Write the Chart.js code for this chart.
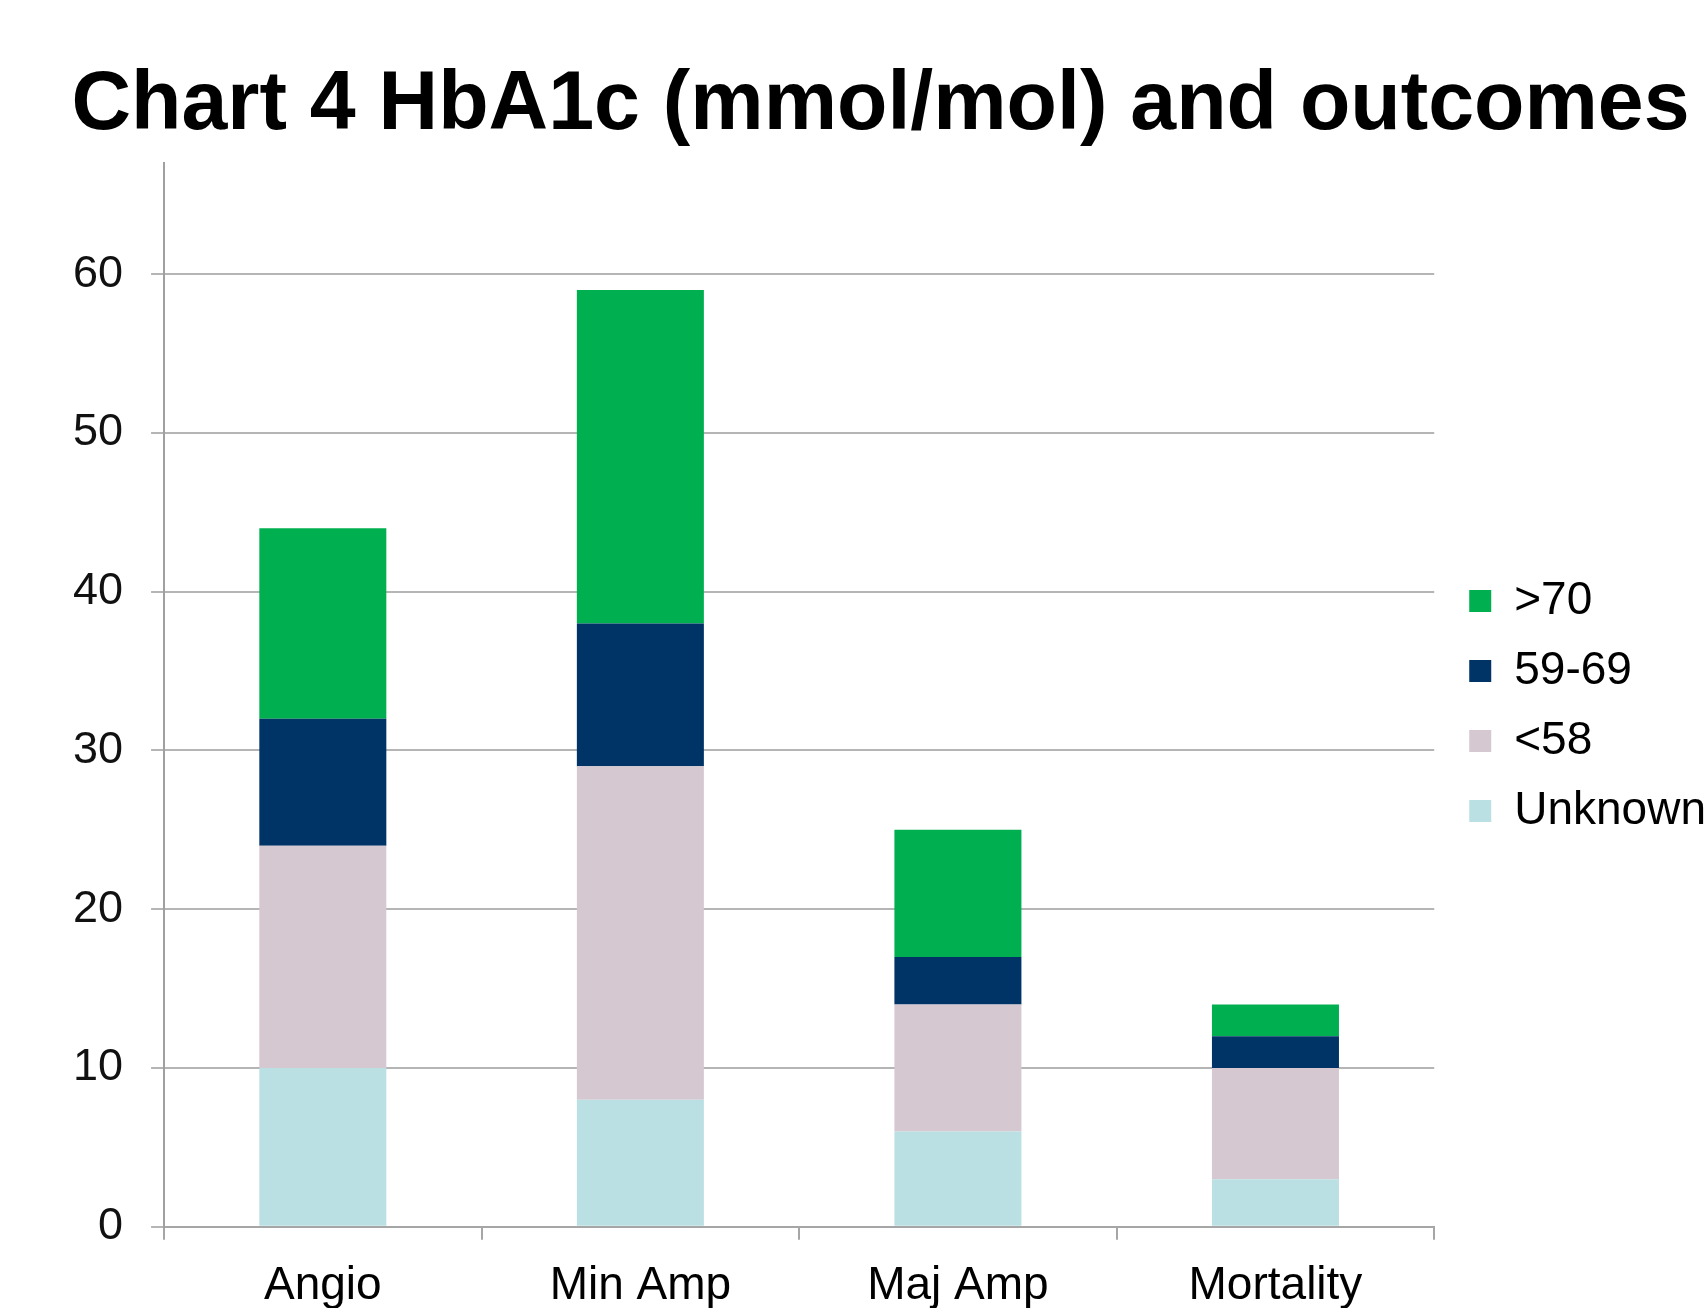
<!DOCTYPE html>
<html lang="en">
<head>
    <meta charset="UTF-8">
    <title>Chart 4 HbA1c (mmol/mol) and outcomes</title>
    <script src="https://cdn.jsdelivr.net/npm/chart.js"></script>
    <style>
        body { margin: 0; background: #ffffff; }
        #grafico { display: block; }
    </style>
</head>
<body>
    <canvas id="grafico" width="1706" height="1308"></canvas>

<script>
    // dados
    const categorias = ['Angio', 'Min Amp', 'Maj Amp', 'Mortality'];
    const desconhecido = [10, 8, 6, 3];
    const menor58 = [14, 21, 8, 7];
    const faixa59a69 = [8, 9, 3, 2];
    const maior70 = [12, 21, 8, 2];

    const ticksY = [0, 10, 20, 30, 40, 50, 60];

    const fonte = 'Liberation Sans, Arial, sans-serif';

    // espaço extra entre a área do gráfico e a legenda
    const folga = 11;

    const folgaLegenda = {
        id: 'folgaLegenda',
        beforeLayout(chart) {
            const leg = chart.legend;
            if (!leg || leg._folga) return;
            const fitOriginal = leg.fit.bind(leg);
            leg.fit = function () {
                fitOriginal();
                this.width += folga;
            };
            leg._folga = true;
        },
        afterLayout(chart) {
            if (chart.legend) chart.legend.left += folga;
        }
    };

    const ctx = document.getElementById('grafico').getContext('2d');

    new Chart(ctx, {
        type: 'bar',
        data: {
            labels: categorias,
            datasets: [
                { label: 'Unknown', data: desconhecido, backgroundColor: '#bbe0e3' },
                { label: '<58', data: menor58, backgroundColor: '#d5c8d1' },
                { label: '59-69', data: faixa59a69, backgroundColor: '#003366' },
                { label: '>70', data: maior70, backgroundColor: '#00b050' }
            ]
        },
        plugins: [folgaLegenda],
        options: {
            responsive: false,
            animation: false,
            devicePixelRatio: 1,
            datasets: {
                bar: { barPercentage: 0.4, categoryPercentage: 1.0, borderWidth: 0 }
            },
            layout: {
                padding: { left: 45, right: -10, top: 0, bottom: -25 }
            },
            plugins: {
                title: {
                    display: true,
                    text: 'Chart 4 HbA1c (mmol/mol) and outcomes',
                    color: '#000000',
                    font: { family: fonte, size: 82.5, weight: 'bold', lineHeight: 1.2 },
                    padding: { top: 57, bottom: 7 }
                },
                legend: {
                    position: 'right',
                    fullSize: false,
                    reverse: true,
                    // titulo vazio so para descer um pouco os itens
                    title: {
                        display: true,
                        text: '',
                        font: { size: 1, lineHeight: 1 },
                        padding: { top: 0, bottom: 21 }
                    },
                    labels: {
                        color: '#000000',
                        boxWidth: 22,
                        boxHeight: 22,
                        padding: 24,
                        font: { family: fonte, size: 46 }
                    }
                },
                tooltip: { enabled: false }
            },
            scales: {
                x: {
                    stacked: true,
                    grid: {
                        offset: true,
                        drawOnChartArea: false,
                        drawTicks: true,
                        tickLength: 13,
                        color: '#a6a6a6',
                        lineWidth: 2
                    },
                    border: { color: '#a6a6a6', width: 2 },
                    ticks: {
                        color: '#000000',
                        padding: 19,
                        maxRotation: 0,
                        font: { family: fonte, size: 46 }
                    }
                },
                y: {
                    stacked: true,
                    min: 0,
                    max: 67,
                    afterBuildTicks: function (eixo) {
                        eixo.ticks = ticksY.map(v => ({ value: v }));
                    },
                    grid: {
                        color: '#b5b5b5',
                        lineWidth: 2,
                        drawTicks: true,
                        tickLength: 13
                    },
                    border: { color: '#a0a0a0', width: 2 },
                    ticks: {
                        color: '#111111',
                        padding: 28,
                        font: { family: fonte, size: 45 }
                    }
                }
            }
        }
    });
</script>
</body>
</html>
